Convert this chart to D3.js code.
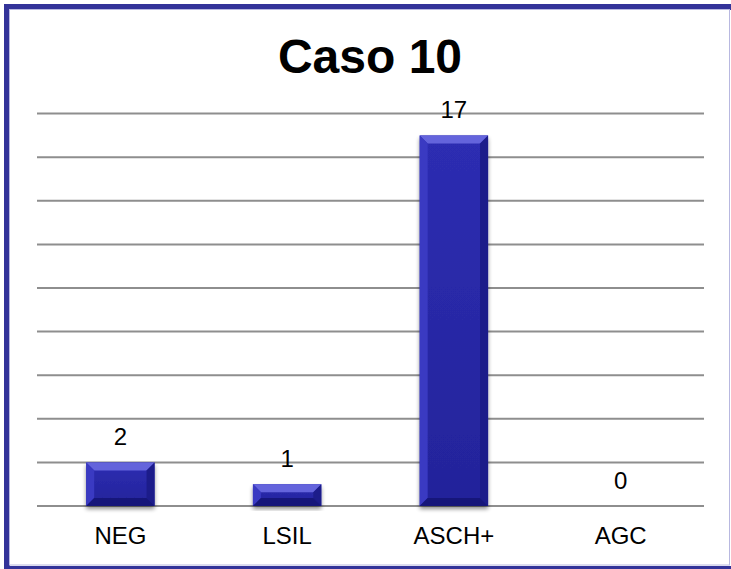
<!DOCTYPE html>
<html>
<head>
<meta charset="utf-8">
<script src="https://cdn.jsdelivr.net/npm/d3@7"></script>
<style>
  html, body { margin: 0; padding: 0; background: #fff; }
  svg { display: block; }
</style>
</head>
<body>
<svg id="chart" width="731" height="569"></svg>
<script>
// Chart data
const title = "Caso 10";
const categories = ["NEG", "LSIL", "ASCH+", "AGC"];
const values = [2, 1, 17, 0];
const gridValues = [0, 2, 4, 6, 8, 10, 12, 14, 16, 18];

const W = 731, H = 569;
const svg = d3.select("#chart");
const defs = svg.append("defs");

// Soft shadow under the bars
const sh = defs.append("filter").attr("id", "shadow")
  .attr("x", "-20%").attr("y", "-20%").attr("width", "140%").attr("height", "140%");
sh.append("feGaussianBlur").attr("in", "SourceAlpha").attr("stdDeviation", 2.2);
sh.append("feOffset").attr("dx", 0).attr("dy", 3).attr("result", "b");
sh.append("feComponentTransfer").append("feFuncA").attr("type", "linear").attr("slope", 0.45);
const m = sh.append("feMerge");
m.append("feMergeNode");
m.append("feMergeNode").attr("in", "SourceGraphic");

// Face gradient
const fg = defs.append("linearGradient").attr("id", "face")
  .attr("x1", 0).attr("y1", 0).attr("x2", 0).attr("y2", 1);
fg.append("stop").attr("offset", "0%").attr("stop-color", "#2d2db2");
fg.append("stop").attr("offset", "100%").attr("stop-color", "#23239a");

// Frame
svg.append("rect").attr("x", 7).attr("y", 7).attr("width", W + 10).attr("height", 562)
  .attr("fill", "none").attr("stroke", "#333399").attr("stroke-width", 6);
svg.append("rect").attr("x", 9.5).attr("y", 9.5).attr("width", 720).attr("height", 555.5)
  .attr("fill", "none").attr("stroke", "#b8b8e0").attr("stroke-width", 1);

// Title
svg.append("text").attr("x", 370).attr("y", 73)
  .attr("text-anchor", "middle")
  .attr("font-family", "Liberation Sans, Arial, sans-serif")
  .attr("font-weight", "bold").attr("font-size", 48)
  .attr("fill", "#000").text(title);

// Scales
const x = d3.scaleBand().domain(categories).range([37, 704]).paddingInner(0).paddingOuter(0);
const y = d3.scaleLinear().domain([0, 18]).range([506, 113.6]);

// Gridlines
svg.append("g").selectAll("line").data(gridValues).join("line")
  .attr("x1", 37).attr("x2", 704)
  .attr("y1", d => y(d)).attr("y2", d => y(d))
  .attr("stroke", "#8e8e8e").attr("stroke-width", 2);

// Bars with bevel
const barW = x.bandwidth() * 0.41;
const bev = 8;
const bars = svg.append("g").selectAll("g").data(categories.map((c, i) => ({ c, v: values[i] })))
  .join("g").filter(d => d.v > 0);

bars.each(function (d) {
  const g = d3.select(this);
  const x0 = x(d.c) + (x.bandwidth() - barW) / 2, x1 = x0 + barW;
  const y0 = y(d.v), y1 = y(0);
  const b = Math.min(bev, (y1 - y0) / 2.2);
  g.append("rect").attr("x", x0).attr("y", y0).attr("width", barW).attr("height", y1 - y0)
    .attr("fill", "url(#face)").attr("filter", "url(#shadow)");
  const poly = (pts, fill) => g.append("polygon")
    .attr("points", pts.map(p => p.join(",")).join(" ")).attr("fill", fill);
  poly([[x0, y0], [x1, y0], [x1 - b, y0 + b], [x0 + b, y0 + b]], "#6464dc");   // top
  poly([[x0, y0], [x0 + b, y0 + b], [x0 + b, y1 - b], [x0, y1]], "#3a3ac2");   // left
  poly([[x1, y0], [x1, y1], [x1 - b, y1 - b], [x1 - b, y0 + b]], "#1c1c8a");   // right
  poly([[x0, y1], [x0 + b, y1 - b], [x1 - b, y1 - b], [x1, y1]], "#16167a");   // bottom
});

// Value labels
svg.append("g").selectAll("text").data(categories.map((c, i) => ({ c, v: values[i] })))
  .join("text")
  .attr("x", d => x(d.c) + x.bandwidth() / 2)
  .attr("y", d => y(d.v) - 17)
  .attr("text-anchor", "middle")
  .attr("font-family", "Liberation Sans, Arial, sans-serif")
  .attr("font-size", 24).attr("fill", "#000")
  .text(d => d.v);

// Category axis labels
const xAxis = d3.axisBottom(x).tickSize(0).tickPadding(0);
const ax = svg.append("g").attr("transform", "translate(0,506)").call(xAxis);
ax.select(".domain").remove();
ax.selectAll("text")
  .attr("dy", 0).attr("y", 38)
  .attr("font-family", "Liberation Sans, Arial, sans-serif")
  .attr("font-size", 24).attr("fill", "#000");
</script>
</body>
</html>
